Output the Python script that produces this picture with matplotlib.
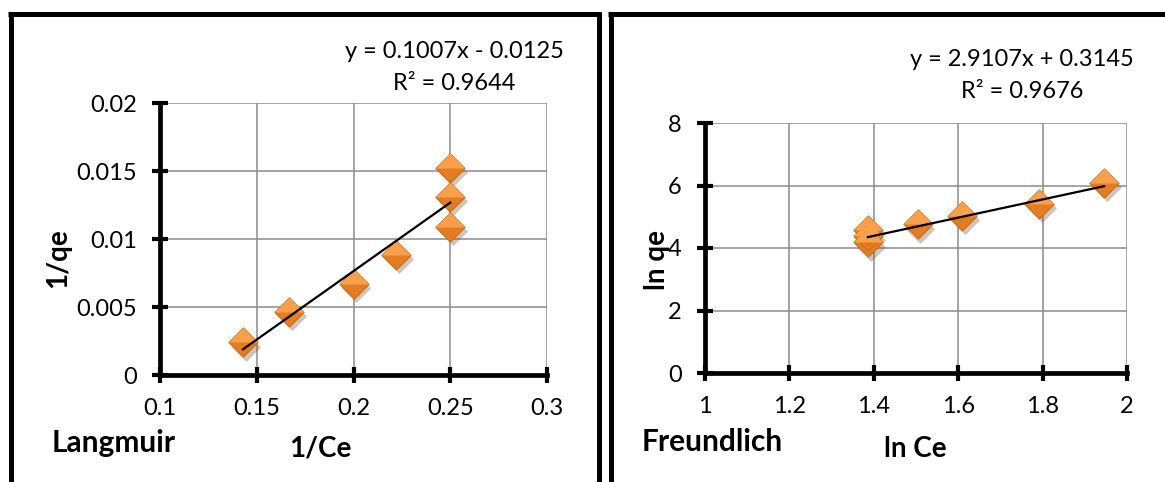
import numpy as np
import matplotlib
matplotlib.use("Agg")
import matplotlib.pyplot as plt
from matplotlib.path import Path
from matplotlib.lines import Line2D
from matplotlib.transforms import ScaledTranslation

plt.rcParams['font.family'] = ['Lato', 'DejaVu Sans']

# Langmuir data (1/Ce, 1/qe)
lang_x = [0.1429, 0.1667, 0.2000, 0.2222, 0.2500, 0.2500, 0.2500]
lang_y = [0.00240, 0.00462, 0.00670, 0.00886, 0.01088, 0.01310, 0.01524]
lang_slope, lang_icpt = 0.1007, -0.0125
lang_eq = ["y = 0.1007x - 0.0125", "R² = 0.9644"]

# Freundlich data (ln Ce, ln qe)
freu_x = [1.386, 1.386, 1.386, 1.504, 1.609, 1.792, 1.946]
freu_y = [4.18, 4.38, 4.58, 4.755, 5.02, 5.415, 6.085]
freu_slope, freu_icpt = 2.9107, 0.3145
freu_eq = ["y = 2.9107x + 0.3145", "R² = 0.9676"]

W, H = 1165, 482
fig = plt.figure(figsize=(W / 100, H / 100), dpi=100)


def fx(x):
    return x / W


def fy(y):
    return 1 - y / H


diamond = Path([(-1, 0), (0, 1), (1, 0), (0, -1), (-1, 0)], closed=True)
top_half = Path([(-1, 0), (0, 1), (1, 0), (-1, 0)], closed=True)


def panel(rect, xs, ys, slope, icpt, xlim, ylim, xticks, yticks):
    ax = fig.add_axes(rect)
    ax.set_xlim(*xlim)
    ax.set_ylim(*ylim)
    ax.set_xticks(xticks)
    ax.set_yticks(yticks)
    ax.set_xticklabels([f"{t:g}" for t in xticks])
    ax.set_yticklabels([f"{t:g}" for t in yticks])
    ax.grid(True, color='#8c8c8c', lw=1.1)
    ax.set_axisbelow(True)
    for s in ['top', 'right']:
        ax.spines[s].set_visible(False)
    for s in ['left', 'bottom']:
        ax.spines[s].set_linewidth(3.4)
        ax.spines[s].set_zorder(1.5)
    ax.tick_params(direction='inout', length=11.5, width=3, labelsize=17, pad=11)
    # shadow, body, lighter top facet
    shadow = ax.transData + ScaledTranslation(2 / 72, -3 / 72, fig.dpi_scale_trans)
    ax.plot(xs, ys, ls='none', marker=diamond, ms=21, color='#7a5a3a', alpha=0.35,
            mec='none', transform=shadow, clip_on=False, zorder=3)
    ax.plot(xs, ys, ls='none', marker=diamond, ms=21, color='#e47c22',
            mec='#c96f1c', mew=0.8, clip_on=False, zorder=4)
    ax.plot(xs, ys, ls='none', marker=top_half, ms=21, color='#f9a04c',
            mec='none', clip_on=False, zorder=5)
    lx = np.array([min(xs), max(xs)])
    ax.plot(lx, slope * lx + icpt, color='black', lw=1.6, zorder=6)
    return ax


panel([fx(160), fy(375), fx(547) - fx(160), fy(103) - fy(375)],
      lang_x, lang_y, lang_slope, lang_icpt, (0.1, 0.3), (0, 0.02),
      [0.1, 0.15, 0.2, 0.25, 0.3], [0, 0.005, 0.01, 0.015, 0.02])

panel([fx(705), fy(373), fx(1127) - fx(705), fy(123) - fy(373)],
      freu_x, freu_y, freu_slope, freu_icpt, (1, 2), (0, 8),
      [1, 1.2, 1.4, 1.6, 1.8, 2], [0, 2, 4, 6, 8])

# equations
fig.text(fx(454), fy(51), lang_eq[0], ha='center', va='center', fontsize=17)
fig.text(fx(454), fy(83), lang_eq[1], ha='center', va='center', fontsize=17)
fig.text(fx(1022), fy(59), freu_eq[0], ha='center', va='center', fontsize=17)
fig.text(fx(1022), fy(92), freu_eq[1], ha='center', va='center', fontsize=17)

# axis titles and panel names
fig.text(fx(58), fy(258), "1/qe", rotation=90, ha='center', va='center', fontsize=20, fontweight='bold')
fig.text(fx(320), fy(449), "1/Ce", ha='center', va='center', fontsize=20, fontweight='bold')
fig.text(fx(114), fy(443), "Langmuir", ha='center', va='center', fontsize=21.5, fontweight='bold')
fig.text(fx(657), fy(260), "ln qe", rotation=90, ha='center', va='center', fontsize=20, fontweight='bold')
fig.text(fx(915), fy(449), "ln Ce", ha='center', va='center', fontsize=20, fontweight='bold')
fig.text(fx(712), fy(442), "Freundlich", ha='center', va='center', fontsize=21.5, fontweight='bold')

# panel frames
frame = dict(color='black', lw=3.6, solid_capstyle='butt', transform=fig.transFigure)
fig.add_artist(Line2D([fx(10.5), fx(10.5)], [fy(12), fy(482)], **frame))
fig.add_artist(Line2D([fx(8), fx(601)], [fy(14), fy(14)], **frame))
fig.add_artist(Line2D([fx(598.5), fx(598.5)], [fy(12), fy(482)], **frame))
fig.add_artist(Line2D([fx(610.5), fx(610.5)], [fy(12), fy(482)], **frame))
fig.add_artist(Line2D([fx(608), fx(1165)], [fy(14), fy(14)], **frame))

fig.savefig("out.png", dpi=100)
